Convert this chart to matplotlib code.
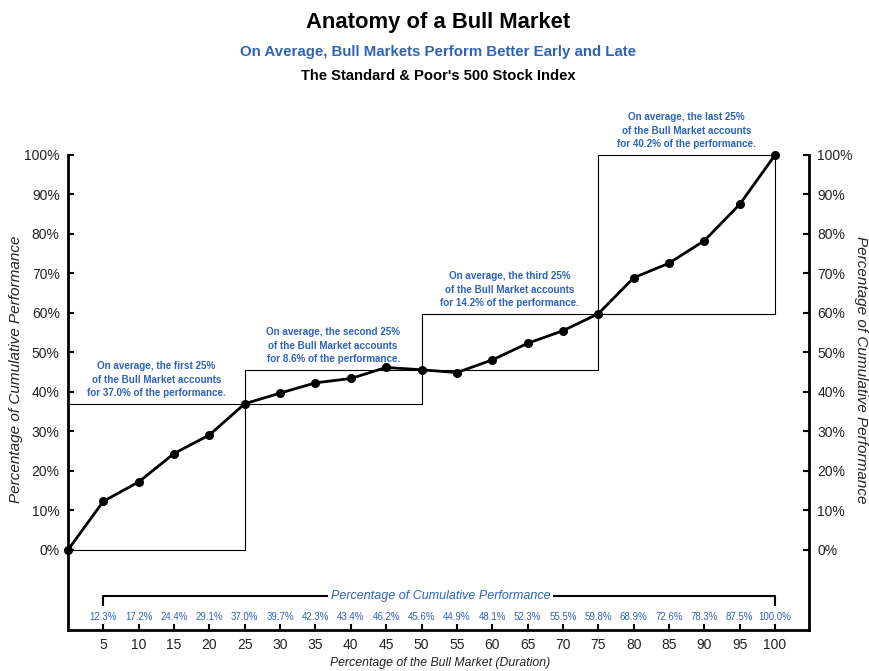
import matplotlib
matplotlib.use("Agg")
import matplotlib.pyplot as plt

# duration of the bull market (%) and cumulative performance (%)
duracao = [0, 5, 10, 15, 20, 25, 30, 35, 40, 45, 50, 55, 60, 65, 70, 75, 80, 85, 90, 95, 100]
desempenho = [0.0, 12.3, 17.2, 24.4, 29.1, 37.0, 39.7, 42.3, 43.4, 46.2, 45.6, 44.9,
              48.1, 52.3, 55.5, 59.8, 68.9, 72.6, 78.3, 87.5, 100.0]
rotulos_valores = ["12.3%", "17.2%", "24.4%", "29.1%", "37.0%", "39.7%", "42.3%", "43.4%",
                   "46.2%", "45.6%", "44.9%", "48.1%", "52.3%", "55.5%", "59.8%", "68.9%",
                   "72.6%", "78.3%", "87.5%", "100.0%"]
quartis = [0, 25, 50, 75, 100]
textos_quartis = [
    "On average, the first 25%\nof the Bull Market accounts\nfor 37.0% of the performance.",
    "On average, the second 25%\nof the Bull Market accounts\nfor 8.6% of the performance.",
    "On average, the third 25%\nof the Bull Market accounts\nfor 14.2% of the performance.",
    "On average, the last 25%\nof the Bull Market accounts\nfor 40.2% of the performance.",
]

AZUL = "#2d62b6"
plt.rcParams["font.family"] = ["Liberation Sans", "DejaVu Sans"]

fig = plt.figure(figsize=(8.69, 6.71), dpi=100)
ax = fig.add_axes([68 / 869, 41 / 671, (809 - 68) / 869, (630 - 155) / 671])
ax.set_xlim(0, 104.8)
ax.set_ylim(-20.3, 100)

# quartile boxes
for i in range(4):
    x0, x1 = quartis[i], quartis[i + 1]
    y0 = desempenho[duracao.index(x0)]
    y1 = desempenho[duracao.index(x1)]
    ax.plot([x0, x1, x1, x0, x0], [y0, y0, y1, y1, y0], color="black", lw=0.8,
            clip_on=False, zorder=2)
    ax.text((x0 + x1) / 2, y1 + 1.4, textos_quartis[i], ha="center", va="bottom",
            color=AZUL, fontsize=7.1, fontweight="bold", linespacing=1.45)

ax.plot(duracao, desempenho, color="black", lw=2, marker="o", markersize=5.5,
        clip_on=False, zorder=3)

# bracket with values
ax.plot([5, 5, 100, 100], [-13.9, -11.6, -11.6, -13.9], color="black", lw=1.5,
        clip_on=False)
ax.text(52.7, -11.6, "Percentage of Cumulative Performance", ha="center", va="center",
        color=AZUL, fontsize=9, style="italic",
        bbox=dict(facecolor="white", edgecolor="none", pad=2))
for x, r in zip(duracao[1:], rotulos_valores):
    ax.text(x, -17.0, r, ha="center", va="center", color=AZUL, fontsize=7)

ax.spines["top"].set_visible(False)
for s in ["left", "right", "bottom"]:
    ax.spines[s].set_linewidth(2)
ax.set_yticks(range(0, 101, 10))
ax.set_yticklabels([f"{v}%" for v in range(0, 101, 10)])
ax.set_xticks(duracao[1:])
ax.tick_params(axis="y", direction="in", length=4, width=1.5, labelsize=10,
               right=True, labelright=True, pad=6, labelcolor="#222222")
ax.tick_params(axis="x", direction="in", length=4, width=1.5, labelsize=10, pad=6,
               labelcolor="#222222")

fig.text(0.018, 0.449, "Percentage of Cumulative Performance", rotation=90, ha="center",
         va="center", fontsize=11, style="italic", color="#222222")
fig.text(0.991, 0.449, "Percentage of Cumulative Performance", rotation=-90, ha="center",
         va="center", fontsize=11, style="italic", color="#222222")
fig.text(0.506, 0.012, "Percentage of the Bull Market (Duration)", ha="center",
         va="center", fontsize=8.8, style="italic", color="#222222")

fig.text(0.504, 0.966, "Anatomy of a Bull Market", ha="center", va="center",
         fontsize=15.8, fontweight="bold")
fig.text(0.504, 0.922, "On Average, Bull Markets Perform Better Early and Late",
         ha="center", va="center", fontsize=10.8, fontweight="bold", color=AZUL)
fig.text(0.504, 0.887, "The Standard & Poor's 500 Stock Index", ha="center",
         va="center", fontsize=10.6, fontweight="bold")

fig.savefig("out.png", dpi=100)
